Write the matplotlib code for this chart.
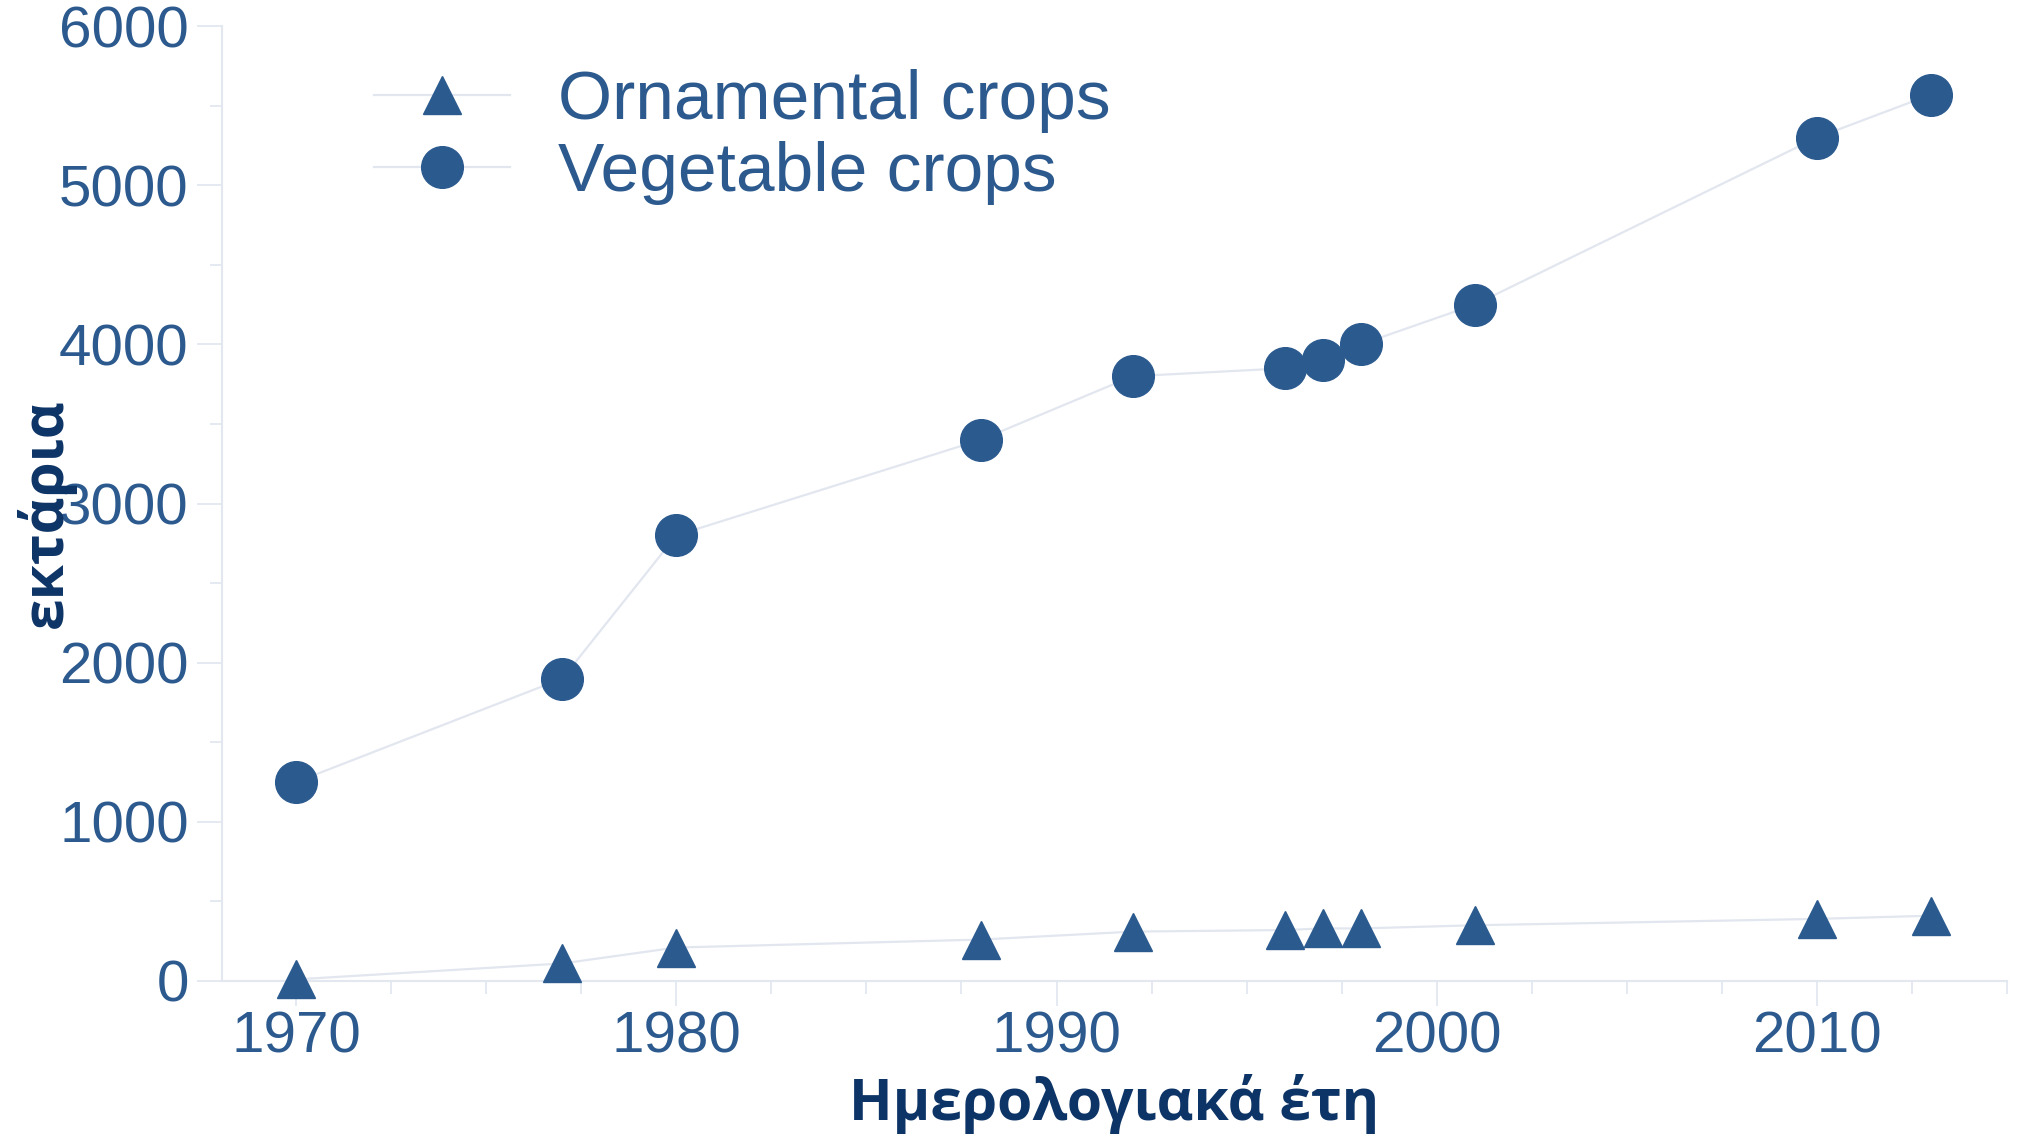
import numpy as np
import matplotlib.pyplot as plt
from matplotlib.ticker import MultipleLocator

years = [1970, 1977, 1980, 1988, 1992, 1996, 1997, 1998, 2001, 2010, 2013]
vegetable = [1250, 1900, 2800, 3400, 3800, 3850, 3900, 4000, 4250, 5300, 5570]
ornamental = [10, 110, 210, 260, 310, 320, 330, 330, 350, 390, 410]
labels = ["Ornamental crops", "Vegetable crops"]

MARK = "#2b5a8f"
LINE = "#e2e6ef"
TICK_TXT = "#2c5a8e"
AX_TXT = "#0d3466"
LABEL_FONT = ["Open Sans", "Noto Sans", "DejaVu Sans"]
TEXT_FONT = ["Liberation Sans", "DejaVu Sans"]

fig = plt.figure(figsize=(20.24, 11.38), dpi=100)
ax = fig.add_axes([0.1097, 0.138, 0.8819, 0.839])

ax.plot(years, ornamental, marker="^", ms=27, color=LINE, lw=1.6,
        mfc=MARK, mec=MARK, label=labels[0], clip_on=False, zorder=3)
ax.plot(years, vegetable, marker="o", ms=30, color=LINE, lw=1.6,
        mfc=MARK, mec=MARK, label=labels[1], clip_on=False, zorder=3)

ax.set_xlim(1968.05, 2015)
ax.set_ylim(0, 6000)
ax.xaxis.set_major_locator(MultipleLocator(10))
ax.xaxis.set_minor_locator(MultipleLocator(2.5))
ax.yaxis.set_major_locator(MultipleLocator(1000))
ax.yaxis.set_minor_locator(MultipleLocator(500))

for s in ["top", "right"]:
    ax.spines[s].set_visible(False)
for s in ["left", "bottom"]:
    ax.spines[s].set_color("#e3e7f0")
    ax.spines[s].set_linewidth(1.5)

ax.tick_params(which="major", direction="out", length=18, width=1.3,
               color="#e3e7f0", labelsize=42, labelcolor=TICK_TXT)
ax.tick_params(axis="x", which="major", pad=3)
ax.tick_params(axis="y", which="major", pad=6)
ax.tick_params(which="minor", direction="out", length=9, width=1.3,
               color="#e3e7f0")
for t in ax.get_xticklabels() + ax.get_yticklabels():
    t.set_family(TEXT_FONT)

ax.set_xlabel("Ημερολογιακά έτη", fontsize=41, fontweight="bold", color=AX_TXT,
              family=LABEL_FONT)
ax.set_ylabel("εκτάρια", fontsize=41, fontweight="bold", color=AX_TXT,
              family=LABEL_FONT)
ax.xaxis.set_label_coords(0.5, -0.097)
ax.yaxis.set_label_coords(-0.082, 0.49)

leg = ax.legend(loc="upper left", bbox_to_anchor=(0.085, 0.955), frameon=False,
                borderpad=0, borderaxespad=0, handlelength=1.96,
                handletextpad=0.69, labelspacing=0.12,
                prop={"family": TEXT_FONT, "size": 50})
for t in leg.get_texts():
    t.set_color(TICK_TXT)

fig.savefig("out.png", dpi=100)
